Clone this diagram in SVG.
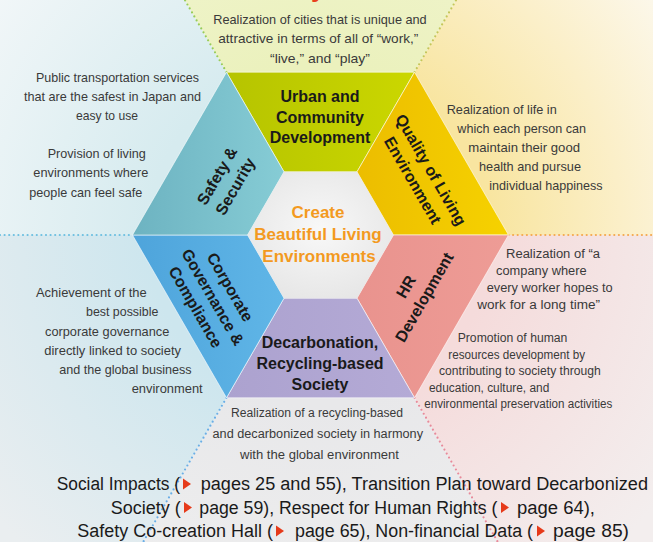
<svg xmlns="http://www.w3.org/2000/svg" width="653" height="542" viewBox="0 0 653 542">
<style>
.d{font-family:"Liberation Sans",Arial,sans-serif;font-size:13px;fill:#3a3a3a}
.ds{font-family:"Liberation Sans",Arial,sans-serif;font-size:12.5px;fill:#3a3a3a}
.lb{font-family:"Liberation Sans",Arial,sans-serif;font-size:16px;font-weight:bold;fill:#1a1a1a;text-anchor:middle}
.ct{font-family:"Liberation Sans",Arial,sans-serif;font-size:17px;font-weight:bold;fill:#f39a1f;text-anchor:middle}
.ft{font-family:"Liberation Sans",Arial,sans-serif;font-size:18px;fill:#1a1a1a}
.dot{fill:none;stroke-width:2.2;stroke-linecap:round;stroke-dasharray:0 4.6}
.seg{stroke:#ffffff;stroke-width:0.8;stroke-opacity:0.7}
.tri{fill:#e63a1a}
</style>
<defs>
<radialGradient id="wTop" gradientUnits="userSpaceOnUse" cx="320.5" cy="235" r="430"><stop offset="0.4" stop-color="#ebf1bd"/><stop offset="1" stop-color="#f3f6d6"/></radialGradient>
<radialGradient id="wTR" gradientUnits="userSpaceOnUse" cx="320.5" cy="235" r="430"><stop offset="0.4" stop-color="#f8e5a0"/><stop offset="0.7" stop-color="#fbefc8"/><stop offset="1" stop-color="#fcf9f1"/></radialGradient>
<radialGradient id="wBR" gradientUnits="userSpaceOnUse" cx="320.5" cy="235" r="430"><stop offset="0.4" stop-color="#f5dbdb"/><stop offset="1" stop-color="#f3eeee"/></radialGradient>
<radialGradient id="wB" gradientUnits="userSpaceOnUse" cx="320.5" cy="235" r="430"><stop offset="0.4" stop-color="#e8e8ea"/><stop offset="1" stop-color="#efefef"/></radialGradient>
<radialGradient id="wBL" gradientUnits="userSpaceOnUse" cx="320.5" cy="235" r="430"><stop offset="0.4" stop-color="#cde6ee"/><stop offset="1" stop-color="#eaeef0"/></radialGradient>
<radialGradient id="wTL" gradientUnits="userSpaceOnUse" cx="320.5" cy="235" r="430"><stop offset="0.4" stop-color="#d6ebef"/><stop offset="1" stop-color="#f5f8f9"/></radialGradient>
<linearGradient id="gUrban" x1="0" y1="0" x2="1" y2="0"><stop offset="0" stop-color="#b6c400"/><stop offset="1" stop-color="#cbd700"/></linearGradient>
<linearGradient id="gQual" x1="0" y1="0" x2="1" y2="0"><stop offset="0" stop-color="#ecbd00"/><stop offset="1" stop-color="#f6d200"/></linearGradient>
<linearGradient id="gHR" x1="0" y1="0" x2="1" y2="0"><stop offset="0" stop-color="#e9938e"/><stop offset="1" stop-color="#ee9c96"/></linearGradient>
<linearGradient id="gDec" x1="0" y1="0" x2="1" y2="0"><stop offset="0" stop-color="#aca2cf"/><stop offset="1" stop-color="#b4aad6"/></linearGradient>
<linearGradient id="gCorp" x1="0" y1="0" x2="1" y2="0"><stop offset="0" stop-color="#4ea4db"/><stop offset="1" stop-color="#60b6e7"/></linearGradient>
<linearGradient id="gSafe" x1="0" y1="0" x2="1" y2="0"><stop offset="0" stop-color="#6db3c1"/><stop offset="1" stop-color="#86ccd5"/></linearGradient>
<radialGradient id="gCenter" cx="0.5" cy="0.45" r="0.6"><stop offset="0" stop-color="#f8f8f8"/><stop offset="1" stop-color="#e6e6e6"/></radialGradient>
</defs>

<g id="background">
<polygon points="184.8,0 456.2,0 320.5,235" fill="url(#wTop)"/>
<polygon points="456.2,0 653,0 653,235 320.5,235" fill="url(#wTR)"/>
<polygon points="653,235 653,542 497.8,542 320.5,235" fill="url(#wBR)"/>
<polygon points="497.8,542 143.2,542 320.5,235" fill="url(#wB)"/>
<polygon points="143.2,542 0,542 0,235 320.5,235" fill="url(#wBL)"/>
<polygon points="0,235 0,0 184.8,0 320.5,235" fill="url(#wTL)"/>
</g>

<g id="connectors">
<line class="dot" x1="226.5" y1="72.2" x2="184.8" y2="0" stroke="#98cc58"/>
<line class="dot" x1="414.5" y1="72.2" x2="456.2" y2="0" stroke="#c4c65a"/>
<line class="dot" x1="0" y1="235" x2="132.5" y2="235" stroke="#6cbfe0"/>
<line class="dot" x1="508.5" y1="235" x2="653" y2="235" stroke="#f4a84e"/>
<line class="dot" x1="226.5" y1="397.8" x2="143.2" y2="542" stroke="#6aaee6"/>
<line class="dot" x1="414.5" y1="397.8" x2="497.8" y2="542" stroke="#e88a9a"/>
</g>

<text x="311" y="-3.5" style="font-family:'Liberation Sans',Arial,sans-serif;font-size:26px;font-weight:bold;fill:#e8401c">y</text>

<g id="node-urban">
<polygon class="seg" points="226.5,72.2 414.5,72.2 357,171.8 284,171.8" fill="url(#gUrban)"/>
<text class="lb" x="320" y="101.7">Urban and</text>
<text class="lb" x="320" y="122.7">Community</text>
<text class="lb" x="320" y="143.3">Development</text>
</g>

<g id="node-quality">
<polygon class="seg" points="414.5,72.2 508.5,235 393.5,235 357,171.8" fill="url(#gQual)"/>
<g transform="translate(422,175) rotate(60)">
<text class="lb" x="0" y="-4.8">Quality of Living</text>
<text class="lb" x="0" y="16.2">Environment</text>
</g>
</g>

<g id="node-hr">
<polygon class="seg" points="508.5,235 414.5,397.8 357,298.2 393.5,235" fill="url(#gHR)"/>
<g transform="translate(415,292) rotate(-60)">
<text class="lb" x="0" y="-4.8">HR</text>
<text class="lb" x="0" y="16.2">Development</text>
</g>
</g>

<g id="node-decarb">
<polygon class="seg" points="414.5,397.8 226.5,397.8 284,298.2 357,298.2" fill="url(#gDec)"/>
<text class="lb" x="320" y="348">Decarbonation,</text>
<text class="lb" x="320" y="369">Recycling-based</text>
<text class="lb" x="320" y="390">Society</text>
</g>

<g id="node-corporate">
<polygon class="seg" points="226.5,397.8 132.5,235 247.5,235 284,298.2" fill="url(#gCorp)"/>
<g transform="translate(213,297) rotate(60)">
<text class="lb" x="0" y="-14.3">Corporate</text>
<text class="lb" x="0" y="5.7">Governance &amp;</text>
<text class="lb" x="0" y="25.7">Compliance</text>
</g>
</g>

<g id="node-safety">
<polygon class="seg" points="132.5,235 226.5,72.2 284,171.8 247.5,235" fill="url(#gSafe)"/>
<g transform="translate(226,181) rotate(-60)">
<text class="lb" x="0" y="-4.8">Safety &amp;</text>
<text class="lb" x="0" y="16.2">Security</text>
</g>
</g>

<g id="node-center">
<polygon points="284,171.8 357,171.8 393.5,235 357,298.2 284,298.2 247.5,235" fill="url(#gCenter)"/>
<text class="ct" x="318" y="217.5">Create</text>
<text class="ct" x="318" y="239.5">Beautiful Living</text>
<text class="ct" x="319" y="261.5">Environments</text>
</g>

<g id="desc-top">
<text class="d" x="213.3" y="23.5" textLength="213.4" lengthAdjust="spacingAndGlyphs">Realization of cities that is unique and</text>
<text class="d" x="218.3" y="43" textLength="200" lengthAdjust="spacingAndGlyphs">attractive in terms of all of “work,”</text>
<text class="d" x="270" y="62.5" textLength="100" lengthAdjust="spacingAndGlyphs">“live,” and “play”</text>
</g>

<g id="desc-safety">
<text class="d" x="36" y="81.5" textLength="163" lengthAdjust="spacingAndGlyphs">Public transportation services</text>
<text class="d" x="24" y="100.5" textLength="177" lengthAdjust="spacingAndGlyphs">that are the safest in Japan and</text>
<text class="d" x="76" y="119.5" textLength="62" lengthAdjust="spacingAndGlyphs">easy to use</text>
<text class="d" x="47.7" y="157.5" textLength="98" lengthAdjust="spacingAndGlyphs">Provision of living</text>
<text class="d" x="33.3" y="177" textLength="115" lengthAdjust="spacingAndGlyphs">environments where</text>
<text class="d" x="29.3" y="196.5" textLength="113" lengthAdjust="spacingAndGlyphs">people can feel safe</text>
</g>

<g id="desc-quality">
<text class="d" x="446.7" y="113.5" textLength="110" lengthAdjust="spacingAndGlyphs">Realization of life in</text>
<text class="d" x="457.3" y="133" textLength="128.7" lengthAdjust="spacingAndGlyphs">which each person can</text>
<text class="d" x="468.3" y="152" textLength="111.7" lengthAdjust="spacingAndGlyphs">maintain their good</text>
<text class="d" x="479" y="171" textLength="102" lengthAdjust="spacingAndGlyphs">health and pursue</text>
<text class="d" x="489.3" y="190" textLength="113.3" lengthAdjust="spacingAndGlyphs">individual happiness</text>
</g>

<g id="desc-corporate">
<text class="d" x="36" y="297" textLength="110.7" lengthAdjust="spacingAndGlyphs">Achievement of the</text>
<text class="d" x="86" y="316" textLength="72.3" lengthAdjust="spacingAndGlyphs">best possible</text>
<text class="d" x="45" y="336" textLength="124.3" lengthAdjust="spacingAndGlyphs">corporate governance</text>
<text class="d" x="44.3" y="355" textLength="136.7" lengthAdjust="spacingAndGlyphs">directly linked to society</text>
<text class="d" x="59.3" y="374" textLength="132.3" lengthAdjust="spacingAndGlyphs">and the global business</text>
<text class="d" x="131.7" y="393" textLength="71" lengthAdjust="spacingAndGlyphs">environment</text>
</g>

<g id="desc-hr">
<text class="ds" x="506" y="258" textLength="94" lengthAdjust="spacingAndGlyphs">Realization of “a</text>
<text class="ds" x="496" y="275" textLength="90.7" lengthAdjust="spacingAndGlyphs">company where</text>
<text class="ds" x="486.7" y="292" textLength="126" lengthAdjust="spacingAndGlyphs">every worker hopes to</text>
<text class="ds" x="477.3" y="308.5" textLength="122.7" lengthAdjust="spacingAndGlyphs">work for a long time”</text>
<text class="ds" x="457.7" y="342" textLength="109.7" lengthAdjust="spacingAndGlyphs">Promotion of human</text>
<text class="ds" x="448.3" y="358.5" textLength="136.7" lengthAdjust="spacingAndGlyphs">resources development by</text>
<text class="ds" x="439" y="375" textLength="161.7" lengthAdjust="spacingAndGlyphs">contributing to society through</text>
<text class="ds" x="429" y="391.5" textLength="120.3" lengthAdjust="spacingAndGlyphs">education, culture, and</text>
<text class="ds" x="424.3" y="408" textLength="188" lengthAdjust="spacingAndGlyphs">environmental preservation activities</text>
</g>

<g id="desc-decarb">
<text class="ds" x="231" y="417" textLength="172" lengthAdjust="spacingAndGlyphs">Realization of a recycling-based</text>
<text class="ds" x="212.5" y="438" textLength="210.5" lengthAdjust="spacingAndGlyphs">and decarbonized society in harmony</text>
<text class="ds" x="240" y="458.5" textLength="159" lengthAdjust="spacingAndGlyphs">with the global environment</text>
</g>

<g id="footer">
<text class="ft" x="56.7" y="490" textLength="123.3" lengthAdjust="spacingAndGlyphs">Social Impacts (</text>
<polygon class="tri" points="183,478.5 191,484 183,489.5"/>
<text class="ft" x="200.7" y="490" textLength="447.3" lengthAdjust="spacingAndGlyphs">pages 25 and 55), Transition Plan toward Decarbonized</text>
<text class="ft" x="110.7" y="513.5" textLength="70" lengthAdjust="spacingAndGlyphs">Society (</text>
<polygon class="tri" points="184,502 192,507.5 184,513"/>
<text class="ft" x="199.3" y="513.5" textLength="298" lengthAdjust="spacingAndGlyphs">page 59), Respect for Human Rights (</text>
<polygon class="tri" points="501,502 509,507.5 501,513"/>
<text class="ft" x="517" y="513.5" textLength="78" lengthAdjust="spacingAndGlyphs">page 64),</text>
<text class="ft" x="77.3" y="537" textLength="195.7" lengthAdjust="spacingAndGlyphs">Safety Co-creation Hall (</text>
<polygon class="tri" points="276,525.5 284,531 276,536.5"/>
<text class="ft" x="295" y="537" textLength="238" lengthAdjust="spacingAndGlyphs">page 65), Non-financial Data (</text>
<polygon class="tri" points="537,525.5 545,531 537,536.5"/>
<text class="ft" x="553" y="537" textLength="76" lengthAdjust="spacingAndGlyphs">page 85)</text>
</g>
</svg>
